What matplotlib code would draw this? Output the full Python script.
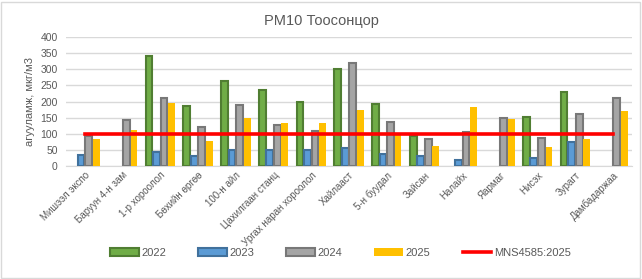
import matplotlib.pyplot as plt
import matplotlib.patches as mpatches
from matplotlib.lines import Line2D
import numpy as np

plt.rcParams['font.family'] = ['Liberation Sans', 'DejaVu Sans']

## ## data
stations = ["Мишээл экспо", "Баруун 4-н зам", "1-р хороолол", "Бөхийн өргөө", "100-н айл",
            "Цахилгаан станц", "Ургах наран хороолол", "Хайлааст", "5-н буудал", "Зайсан",
            "Налайх", "Яармаг", "Нисэх", "Зурагт", "Дамбадаржаа"]
pm_2022 = [np.nan, np.nan, 342, 186, 265, 235, 198, 302, 192, 93, np.nan, np.nan, 152, 229, np.nan]
pm_2023 = [33, np.nan, 42, 31, 51, 51, 51, 57, 36, 30, 20, np.nan, 24, 75, np.nan]
pm_2024 = [92, 143, 210, 121, 189, 128, 110, 320, 137, 85, 107, 149, 88, 161, 210]
pm_2025 = [84, 113, 197, 77, 148, 132, 135, 174, 100, 61, 184, 147, 58, 83, 171]
norm_value = 100
norm_label = "MNS4585:2025"
years = ["2022", "2023", "2024", "2025"]

text_color = "#595959"
fills = ["#70AD47", "#5B9BD5", "#A5A5A5", "#FFC000"]
edges = ["#507E32", "#41719C", "#787878", "none"]

fig = plt.figure(figsize=(6.42, 2.79), dpi=100)
ax = fig.add_axes([0.1028, 0.405, 0.8816, 0.462])

x = np.arange(len(stations))
bw = 0.18
series = [pm_2022, pm_2023, pm_2024, pm_2025]
for i, vals in enumerate(series):
    offs = (i - 1.5) * 0.2
    lw = 1.5 if edges[i] != "none" else 0
    ax.bar(x + offs, vals, bw, color=fills[i], edgecolor=edges[i], linewidth=lw, zorder=3)

ax.plot(x, [norm_value] * len(stations), color="#FF0000", linewidth=2.6, zorder=4)

ax.set_xlim(-0.5, len(stations) - 0.5)
ax.set_ylim(0, 400)
ax.set_yticks(range(0, 401, 50))
ax.yaxis.grid(True, color="#D9D9D9", linewidth=1, zorder=0)
ax.set_axisbelow(True)
for s in ["top", "right", "left"]:
    ax.spines[s].set_visible(False)
ax.spines["bottom"].set_color("#D9D9D9")
ax.tick_params(length=0, colors=text_color, labelsize=7.5)
ax.tick_params(axis="y", pad=6)
ax.set_xticks(x)
ax.set_xticklabels(stations, rotation=45, ha="right", rotation_mode="anchor", fontsize=7)
ax.tick_params(axis="x", pad=3)
ax.set_ylabel("агууламж, мкг/м3", color=text_color, fontsize=8, labelpad=4)

fig.text(0.5, 0.925, "PM10 Тоосонцор", ha="center", va="center", color=text_color, fontsize=10.5)

handles = [mpatches.Patch(facecolor=fills[i], edgecolor=edges[i], linewidth=1.5 if i < 3 else 0)
           for i in range(4)]
handles.append(Line2D([0], [0], color="#FF0000", linewidth=2.6))
fig.legend(handles, years + [norm_label], loc="center", bbox_to_anchor=(0.53, 0.093), ncol=5,
           frameon=False, fontsize=8, labelcolor=text_color, handlelength=2.6, handleheight=0.8,
           handletextpad=0.2, columnspacing=2.9)

fig.patches.append(mpatches.Rectangle((0.002, 0.004), 0.995, 0.99, transform=fig.transFigure,
                                      fill=False, edgecolor="#D9D9D9", linewidth=1))

plt.savefig("out.png", dpi=100)
